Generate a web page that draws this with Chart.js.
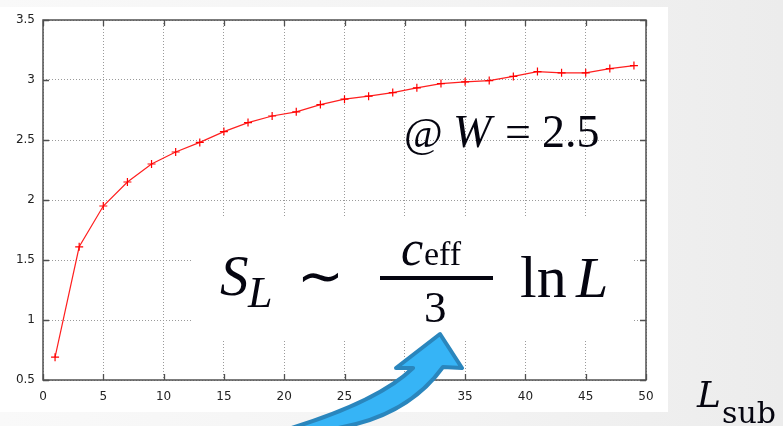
<!DOCTYPE html>
<html>
<head>
<meta charset="utf-8">
<script src="https://cdn.jsdelivr.net/npm/chart.js@4.4.1/dist/chart.umd.min.js"></script>
<style>
  html, body { margin: 0; padding: 0; }
  body { width: 783px; height: 426px; background: linear-gradient(90deg, #f9f9f9 0%, #f3f3f3 60%, #ececec 100%); overflow: hidden; }
  canvas { display: block; }
</style>
</head>
<body>
<canvas id="entropyChart" width="783" height="426"></canvas>
<script>
// subsystem sizes (odd L) and entanglement entropy
const sizes = [1, 3, 5, 7, 9, 11, 13, 15, 17, 19, 21, 23, 25, 27, 29, 31, 33, 35, 37, 39, 41, 43, 45, 47, 49];
const entropy = [0.69, 1.61, 1.95, 2.15, 2.30, 2.40, 2.48, 2.57, 2.645, 2.70, 2.735, 2.795, 2.84, 2.865, 2.895, 2.935, 2.97, 2.985, 2.995, 3.03, 3.07, 3.06, 3.06, 3.095, 3.12];
const xTicks = [0, 5, 10, 15, 20, 25, 30, 35, 40, 45, 50];
const yTicks = [0.5, 1, 1.5, 2, 2.5, 3, 3.5];

const frameColor = '#505050';

// white slide panel, frame with inward ticks, and the pasted formula / arrow
const decorations = {
  id: 'decorations',
  beforeDraw(chart) {
    const c = chart.ctx;
    c.save();
    c.fillStyle = '#ffffff';
    c.fillRect(0, 7, 668, 405);
    c.restore();
  },
  beforeDatasetsDraw(chart) {
    const c = chart.ctx;
    const { x, y } = chart.scales;
    const a = chart.chartArea;
    c.save();
    // formula image covers the grid underneath
    c.fillStyle = '#ffffff';
    c.fillRect(192, 217, 441, 123);
    // frame
    c.strokeStyle = frameColor;
    c.lineWidth = 1.5;
    c.strokeRect(a.left, a.top, a.right - a.left, a.bottom - a.top);
    // inward ticks on all four sides
    c.lineWidth = 1.3;
    c.beginPath();
    xTicks.forEach(v => {
      const px = Math.round(x.getPixelForValue(v)) + 0.5;
      c.moveTo(px, a.bottom); c.lineTo(px, a.bottom - 6);
      c.moveTo(px, a.top); c.lineTo(px, a.top + 6);
    });
    yTicks.forEach(v => {
      const py = Math.round(y.getPixelForValue(v)) + 0.5;
      c.moveTo(a.left, py); c.lineTo(a.left + 6, py);
      c.moveTo(a.right, py); c.lineTo(a.right - 6, py);
    });
    c.stroke();
    c.restore();
  },
  afterDraw(chart) {
    const c = chart.ctx;
    c.save();
    c.fillStyle = '#050510';
    c.textBaseline = 'alphabetic';
    c.textAlign = 'left';

    // @ W = 2.5
    c.font = '42px "Liberation Serif"';
    c.fillText('@', 404, 147);
    c.font = 'italic 46px "Liberation Serif"';
    c.fillText('W', 453, 147);
    c.font = '46px "Liberation Serif"';
    c.fillText('=', 505, 147);
    c.fillText('2.5', 542, 147);

    // S_L ~ c_eff / 3  ln L
    c.font = 'italic 57px "Liberation Serif"';
    c.fillText('S', 220, 295);
    c.font = 'italic 44px "Liberation Serif"';
    c.fillText('L', 248, 307);
    c.font = '56px "Liberation Serif"';
    c.fillText('\u223C', 297, 295);
    c.font = 'italic 50px "Liberation Serif"';
    c.fillText('c', 401, 265);
    c.font = '34px "Liberation Serif"';
    c.fillText('eff', 424, 265);
    c.fillRect(380, 276, 113, 4);
    c.font = '45px "Liberation Serif"';
    c.fillText('3', 424, 322);
    c.font = '60px "Liberation Serif"';
    c.fillText('ln', 520, 297);
    c.font = 'italic 58px "Liberation Serif"';
    c.fillText('L', 576, 297);

    // L_sub axis label
    c.font = 'italic 36px "DejaVu Serif"';
    c.fillText('L', 697, 407);
    c.font = '30px "DejaVu Serif"';
    c.fillText('sub', 722, 423);

    // curved blue arrow
    c.beginPath();
    c.moveTo(285, 430);
    c.quadraticCurveTo(378, 402, 413, 368);
    c.lineTo(396, 368);
    c.lineTo(440, 334);
    c.lineTo(462, 368);
    c.lineTo(443, 367);
    c.quadraticCurveTo(405, 420, 325, 430);
    c.closePath();
    c.fillStyle = '#36b4f6';
    c.fill();
    c.lineJoin = 'round';
    c.lineWidth = 4;
    c.strokeStyle = '#2a86bd';
    c.stroke();
    c.restore();
  }
};

const gridOpts = { color: '#9a9a9a', drawTicks: false, lineWidth: 1 };
const borderOpts = { display: false, dash: [1, 2] };
const tickFont = { family: 'DejaVu Sans', size: 12 };

new Chart(document.getElementById('entropyChart'), {
  type: 'line',
  data: {
    datasets: [{
      data: sizes.map((L, i) => ({ x: L, y: entropy[i] })),
      borderColor: '#ff1f1f',
      borderWidth: 1.2,
      pointStyle: 'cross',
      pointRadius: 4,
      pointBorderWidth: 1.2,
      pointBorderColor: '#ff0000',
      tension: 0,
      fill: false
    }]
  },
  options: {
    responsive: false,
    animation: false,
    layout: { padding: { top: 20, right: 137, left: 0, bottom: 0 } },
    plugins: { legend: { display: false }, tooltip: { enabled: false } },
    scales: {
      x: {
        type: 'linear',
        min: 0,
        max: 50,
        afterBuildTicks: s => { s.ticks = xTicks.map(v => ({ value: v })); },
        afterFit: s => { s.height = 46; },
        grid: gridOpts,
        border: borderOpts,
        ticks: { padding: 10, color: '#222', font: tickFont, callback: v => String(v), maxRotation: 0 }
      },
      y: {
        min: 0.5,
        max: 3.5,
        afterBuildTicks: s => { s.ticks = yTicks.map(v => ({ value: v })); },
        afterFit: s => { s.width = 43; },
        grid: gridOpts,
        border: borderOpts,
        ticks: { padding: 8, color: '#222', font: tickFont, callback: v => String(v) }
      }
    }
  },
  plugins: [decorations]
});
</script>
</body>
</html>
